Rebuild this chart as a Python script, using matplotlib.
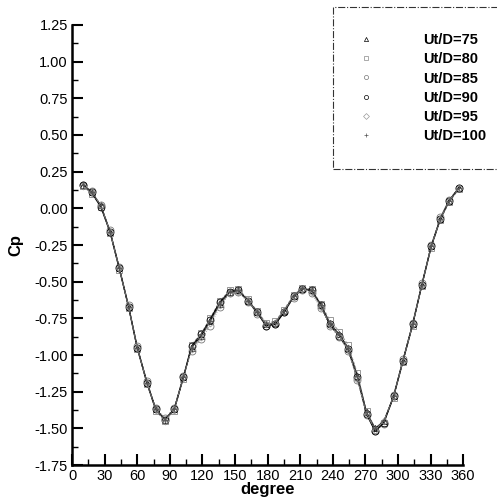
import numpy as np
import matplotlib.pyplot as plt
from matplotlib.ticker import MultipleLocator, FormatStrFormatter

plt.rcParams['font.family'] = ['Liberation Sans', 'DejaVu Sans']

# angular positions (degree)
deg = [10, 18, 26.5, 35, 43.5, 52, 60, 69, 77, 85.5, 94, 102.5, 110, 119,
       127, 136, 145, 153, 162, 170.5, 178.5, 187, 195, 204, 212, 220.5,
       229, 237, 246, 254, 262.5, 271, 279, 287, 296, 304.5, 313.5, 322,
       330.5, 339, 347, 356]

cp_75 = [0.16, 0.11, 0.02, -0.16, -0.41, -0.67, -0.95, -1.19, -1.37, -1.44,
         -1.37, -1.15, -0.95, -0.87, -0.77, -0.65, -0.57, -0.56, -0.63, -0.71,
         -0.79, -0.78, -0.70, -0.60, -0.55, -0.56, -0.66, -0.78, -0.86, -0.95,
         -1.14, -1.39, -1.50, -1.45, -1.28, -1.04, -0.79, -0.52, -0.26, -0.07,
         0.05, 0.14]
cp_80 = [0.15, 0.10, 0.01, -0.17, -0.42, -0.68, -0.96, -1.20, -1.38, -1.45,
         -1.38, -1.16, -0.93, -0.85, -0.75, -0.63, -0.56, -0.55, -0.62, -0.70,
         -0.78, -0.77, -0.69, -0.59, -0.54, -0.55, -0.65, -0.76, -0.84, -0.93,
         -1.12, -1.38, -1.51, -1.46, -1.29, -1.05, -0.80, -0.53, -0.27, -0.08,
         0.04, 0.13]
cp_85 = [0.16, 0.12, 0.02, -0.15, -0.40, -0.66, -0.94, -1.18, -1.36, -1.43,
         -1.36, -1.14, -0.97, -0.89, -0.80, -0.67, -0.58, -0.57, -0.64, -0.72,
         -0.80, -0.79, -0.71, -0.61, -0.56, -0.58, -0.68, -0.80, -0.88, -0.97,
         -1.17, -1.41, -1.52, -1.47, -1.27, -1.03, -0.78, -0.51, -0.25, -0.06,
         0.06, 0.14]
cp_90 = [0.16, 0.11, 0.01, -0.16, -0.41, -0.67, -0.95, -1.19, -1.37, -1.44,
         -1.37, -1.15, -0.94, -0.86, -0.76, -0.64, -0.57, -0.56, -0.63, -0.71,
         -0.80, -0.79, -0.71, -0.60, -0.55, -0.56, -0.66, -0.79, -0.87, -0.96,
         -1.15, -1.40, -1.52, -1.46, -1.28, -1.04, -0.79, -0.52, -0.26, -0.07,
         0.05, 0.14]
cp_95 = [0.15, 0.11, 0.02, -0.16, -0.41, -0.67, -0.95, -1.19, -1.37, -1.45,
         -1.37, -1.15, -0.96, -0.88, -0.78, -0.66, -0.58, -0.57, -0.63, -0.71,
         -0.79, -0.78, -0.70, -0.60, -0.55, -0.57, -0.67, -0.79, -0.87, -0.96,
         -1.16, -1.40, -1.51, -1.45, -1.28, -1.04, -0.79, -0.52, -0.26, -0.07,
         0.05, 0.14]
cp_100 = [0.16, 0.11, 0.02, -0.16, -0.41, -0.67, -0.95, -1.19, -1.37, -1.44,
          -1.37, -1.15, -0.95, -0.86, -0.77, -0.65, -0.57, -0.56, -0.63, -0.71,
          -0.79, -0.78, -0.70, -0.60, -0.54, -0.56, -0.66, -0.78, -0.86, -0.95,
          -1.14, -1.39, -1.50, -1.45, -1.28, -1.04, -0.79, -0.52, -0.26, -0.07,
          0.05, 0.14]

labels = ['Ut/D=75', 'Ut/D=80', 'Ut/D=85', 'Ut/D=90', 'Ut/D=95', 'Ut/D=100']
series = [cp_75, cp_80, cp_85, cp_90, cp_95, cp_100]

styles = [
    dict(marker='^', ls='-', color='black', lw=0.8, ms=4),
    dict(marker='s', ls='--', color='#888888', lw=0.6, ms=4),
    dict(marker='o', ls=':', color='#777777', lw=0.6, ms=5),
    dict(marker='o', ls='-', color='black', lw=1.0, ms=5),
    dict(marker='D', ls='-.', color='#999999', lw=0.6, ms=3.5),
    dict(marker='+', ls='--', color='#555555', lw=0.6, ms=4),
]

fig = plt.figure(figsize=(4.97, 4.99), dpi=100)
ax = fig.add_axes([0.145, 0.068, 0.787, 0.882])

handles = []
for y, lab, st in zip(series, labels, styles):
    ax.plot(deg, y, linestyle=st['ls'], color=st['color'], lw=st['lw'],
            marker=st['marker'], ms=st['ms'], mfc='none', mec=st['color'],
            mew=0.6)
    h, = ax.plot([], [], linestyle='none', marker=st['marker'], ms=3,
                 mfc='none', mec=st['color'], mew=0.5, label=lab)
    handles.append(h)

ax.set_xlim(0, 360)
ax.set_ylim(-1.75, 1.25)
ax.xaxis.set_major_locator(MultipleLocator(30))
ax.xaxis.set_minor_locator(MultipleLocator(15))
ax.yaxis.set_major_locator(MultipleLocator(0.25))
ax.yaxis.set_minor_locator(MultipleLocator(0.125))
ax.yaxis.set_major_formatter(FormatStrFormatter('%.2f'))

ax.spines['top'].set_visible(False)
ax.spines['right'].set_visible(False)
ax.spines['left'].set_linewidth(1.8)
ax.spines['bottom'].set_linewidth(1.8)
ax.tick_params(which='major', direction='in', length=8, width=1.5,
               labelsize=10.5, pad=3)
ax.tick_params(which='minor', direction='in', length=4, width=1)

ax.set_xlabel('degree', fontsize=12, fontweight='bold', labelpad=-1)
ax.set_ylabel('Cp', fontsize=12, fontweight='bold', labelpad=8)

# legend box runs off the right edge, as in the original
leg = fig.legend(handles=handles, loc='upper left',
                 bbox_to_anchor=(0.67, 0.67, 0.37, 0.315), mode='expand',
                 frameon=True, fancybox=False,
                 prop=dict(size=10.5, weight='bold'), handlelength=1.0,
                 handletextpad=3.4, labelspacing=0.36, borderpad=1.75,
                 borderaxespad=0)
frame = leg.get_frame()
frame.set_linestyle('-.')
frame.set_edgecolor('black')
frame.set_linewidth(0.8)

fig.savefig('out.png', dpi=100)
